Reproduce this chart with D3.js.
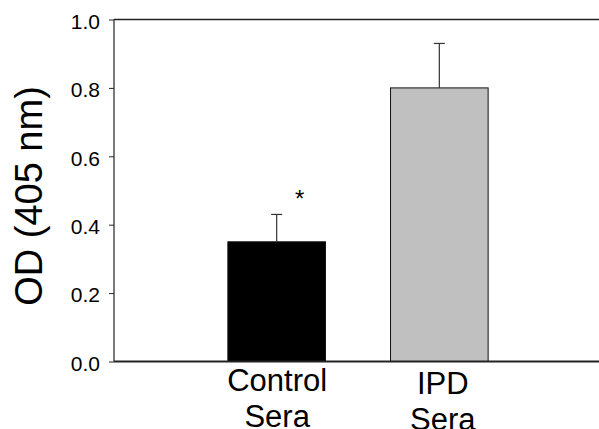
<!DOCTYPE html>
<html>
<head>
<meta charset="utf-8">
<script src="https://cdn.jsdelivr.net/npm/d3@7"></script>
<style>
	body { margin: 0; background: #fff; }
	svg { display: block; font-family: "Liberation Sans", Arial, sans-serif; }
</style>
</head>
<body>
<svg></svg>
<script>
var categories = ["Control Sera", "IPD Sera"];
var labelLines = [["Control", "Sera"], ["IPD", "Sera"]];
var means = [0.35, 0.80];
var errors = [0.08, 0.13];
var marks = ["*", ""];
var fills = ["#000000", "#c0c0c0"];
var yTicks = [0.0, 0.2, 0.4, 0.6, 0.8, 1.0];

var width = 599;
var height = 429;
var plotLeft = 114, plotRight = 602, plotTop = 19.5, plotBottom = 361.5;

var svg = d3.select("svg").attr("width", width).attr("height", height);

var x = d3.scalePoint().domain(categories).range([plotLeft, plotRight]).padding(1);
var y = d3.scaleLinear().domain([0, 1]).range([plotBottom, plotTop]);
var barWidth = x.step() * 0.6;

function init(){
	// bars
	svg.selectAll(".bar").data(categories)
	.enter().append("rect")
	.attr("class", "bar")
	.attr("x", function(d) { return x(d) - barWidth/2; })
	.attr("y", function(d, i) { return y(means[i]); })
	.attr("width", barWidth)
	.attr("height", function(d, i) { return y(0) - y(means[i]); })
	.style("fill", function(d, i) { return fills[i]; })
	.style("stroke", "#111")
	.style("stroke-width", 1);

	// error bars (upper only)
	var err = svg.selectAll(".err").data(categories)
	.enter().append("g")
	.attr("class", "err")
	.style("stroke", "#333")
	.style("stroke-width", 1.2);
	err.append("line")
	.attr("x1", function(d) { return x(d); })
	.attr("x2", function(d) { return x(d); })
	.attr("y1", function(d, i) { return y(means[i]); })
	.attr("y2", function(d, i) { return y(means[i] + errors[i]); });
	err.append("line")
	.attr("x1", function(d) { return x(d) - 5.5; })
	.attr("x2", function(d) { return x(d) + 5.5; })
	.attr("y1", function(d, i) { return y(means[i] + errors[i]); })
	.attr("y2", function(d, i) { return y(means[i] + errors[i]); });

	// significance mark
	svg.selectAll(".mark").data(categories)
	.enter().append("text")
	.attr("class", "mark")
	.attr("x", function(d) { return x(d) + 23; })
	.attr("y", function(d, i) { return y(means[i] + errors[i]) - 7; })
	.attr("text-anchor", "middle")
	.style("font-size", "24px")
	.text(function(d, i) { return marks[i]; });

	// y axis
	var yAxis = svg.append("g")
	.attr("transform", "translate(" + plotLeft + ",0)")
	.call(d3.axisLeft(y).tickValues(yTicks).tickFormat(d3.format(".1f")).tickSize(5).tickPadding(9));
	yAxis.select(".domain").attr("d", "M0," + plotTop + "V" + plotBottom).style("stroke", "#222").style("stroke-width", 1.2);
	yAxis.selectAll(".tick line").style("stroke", "#222");
	yAxis.selectAll(".tick text")
	.attr("dy", "0.42em")
	.style("font-size", "21px")
	.style("font-family", "Liberation Sans, Arial, sans-serif")
	.style("fill", "#000");

	// top and bottom frame lines
	svg.append("line")
	.attr("x1", plotLeft).attr("x2", plotRight)
	.attr("y1", y(1)).attr("y2", y(1))
	.style("stroke", "#222").style("stroke-width", 1.6);

	var xAxis = svg.append("g")
	.attr("transform", "translate(0," + plotBottom + ")")
	.call(d3.axisBottom(x).tickSize(0).tickFormat(""));
	xAxis.select(".domain").attr("d", "M" + plotLeft + ",0H" + plotRight).style("stroke", "#222").style("stroke-width", 1.8);

	// two-line category labels
	xAxis.selectAll(".tick").each(function(d, i) {
		var t = d3.select(this).append("text")
		.attr("text-anchor", "middle")
		.attr("x", i ? 3 : 0)
		.attr("y", i ? 32.5 : 29.5)
		.style("font-size", "31px")
		.style("font-family", "Liberation Sans, Arial, sans-serif")
		.style("fill", "#000");
		labelLines[i].forEach(function(s, j) {
			t.append("tspan").attr("x", i ? 3 : 0).attr("dy", j ? 35.5 : 0).text(s);
		});
	});

	// y title
	svg.append("text")
	.attr("transform", "translate(42,196) rotate(-90)")
	.attr("text-anchor", "middle")
	.style("font-size", "38px")
	.style("fill", "#000")
	.text("OD (405 nm)");
}

init();
</script>
</body>
</html>
